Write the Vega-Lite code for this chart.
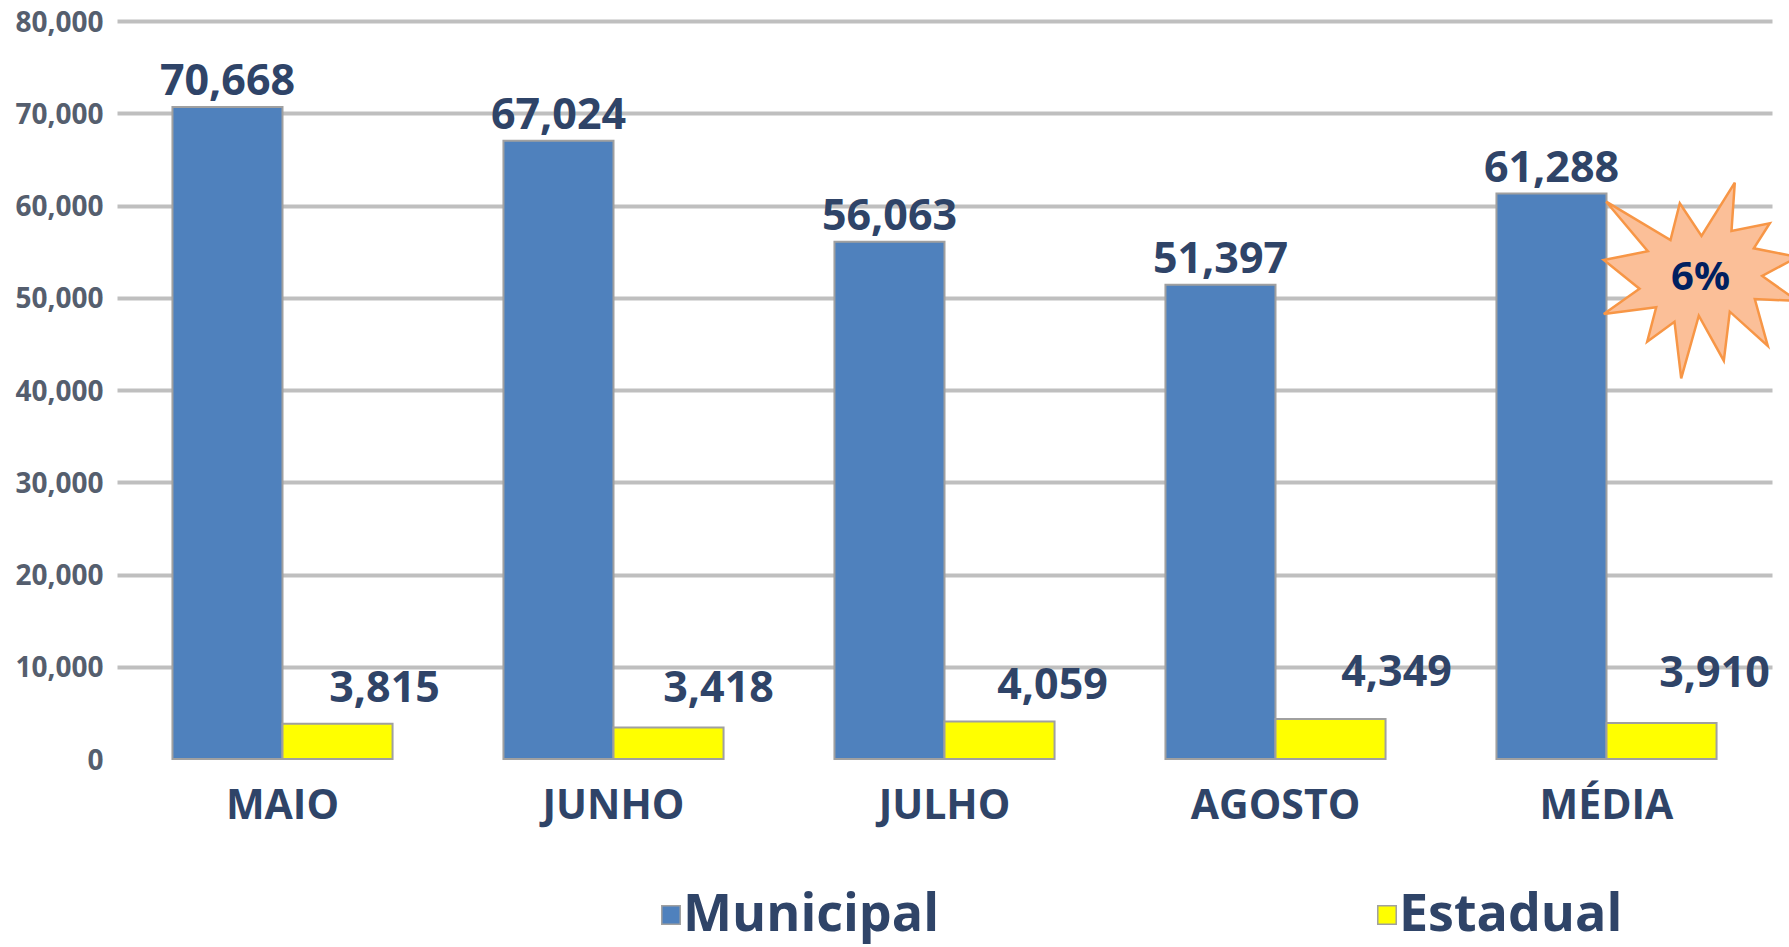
{"$schema":"https://vega.github.io/schema/vega-lite/v6.json","width":1655,"height":738,"autosize":"none","padding":{"left":117,"top":21,"right":17,"bottom":188},"background":"white","config":{"view":{"stroke":null}},"datasets":{"bars":[{"mes":"MAIO","serie":"Municipal","valor":70668},{"mes":"MAIO","serie":"Estadual","valor":3815},{"mes":"JUNHO","serie":"Municipal","valor":67024},{"mes":"JUNHO","serie":"Estadual","valor":3418},{"mes":"JULHO","serie":"Municipal","valor":56063},{"mes":"JULHO","serie":"Estadual","valor":4059},{"mes":"AGOSTO","serie":"Municipal","valor":51397},{"mes":"AGOSTO","serie":"Estadual","valor":4349},{"mes":"MÉDIA","serie":"Municipal","valor":61288},{"mes":"MÉDIA","serie":"Estadual","valor":3910}],"nota":[{"mes":"MÉDIA","valor":52250,"texto":"6%"}]},"data":{"name":"bars"},"encoding":{"x":{"field":"mes","type":"nominal","sort":["MAIO","JUNHO","JULHO","AGOSTO","MÉDIA"],"title":null,"scale":{"paddingInner":0.335,"paddingOuter":0.1675},"axis":{"labelAngle":0,"labelFont":"Open Sans","labelFontWeight":"bold","labelFontSize":41,"labelColor":"#2F4468","labelPadding":27,"domain":false,"ticks":false,"grid":false}},"y":{"field":"valor","type":"quantitative","title":null,"scale":{"domain":[0,80000],"nice":false},"axis":{"values":[0,10000,20000,30000,40000,50000,60000,70000,80000],"format":",d","labelFont":"Open Sans","labelFontWeight":"bold","labelFontSize":28,"labelColor":"#555E6E","labelPadding":14,"labelOffset":2,"domain":false,"ticks":false,"grid":true,"gridColor":"#BFBFBF","gridWidth":4,"gridOpacity":{"condition":{"test":"datum.value === 0","value":0},"value":1}}}},"layer":[{"mark":{"type":"bar","stroke":"#A0A0A0","strokeWidth":2},"encoding":{"xOffset":{"field":"serie","type":"nominal","sort":["Municipal","Estadual"]},"color":{"field":"serie","type":"nominal","sort":["Municipal","Estadual"],"scale":{"domain":["Municipal","Estadual"],"range":["#4F81BD","#FFFF00"]},"legend":{"orient":"none","legendX":528,"legendY":868,"direction":"horizontal","columns":2,"title":null,"symbolType":"square","symbolSize":340,"symbolStrokeWidth":1.5,"labelFont":"Open Sans","labelFontWeight":"bold","labelFontSize":52,"labelColor":"#2F4468","labelOffset":-14,"labelLimit":400,"columnPadding":421}}}},{"transform":[{"filter":"datum.serie==='Municipal'"}],"mark":{"type":"text","font":"Open Sans","fontWeight":"bold","fontSize":43,"color":"#2F4468","baseline":"middle","dy":-25},"encoding":{"xOffset":{"field":"serie","type":"nominal","sort":["Municipal","Estadual"]},"text":{"field":"valor","type":"quantitative","format":",d"}}},{"transform":[{"filter":"datum.serie==='Estadual' && datum.mes==='MAIO'"}],"mark":{"type":"text","font":"Open Sans","fontWeight":"bold","fontSize":43,"color":"#2F4468","baseline":"middle","dx":47,"dy":-35},"encoding":{"xOffset":{"field":"serie","type":"nominal","sort":["Municipal","Estadual"]},"text":{"field":"valor","type":"quantitative","format":",d"}}},{"transform":[{"filter":"datum.serie==='Estadual' && datum.mes==='JUNHO'"}],"mark":{"type":"text","font":"Open Sans","fontWeight":"bold","fontSize":43,"color":"#2F4468","baseline":"middle","dx":50,"dy":-38},"encoding":{"xOffset":{"field":"serie","type":"nominal","sort":["Municipal","Estadual"]},"text":{"field":"valor","type":"quantitative","format":",d"}}},{"transform":[{"filter":"datum.serie==='Estadual' && datum.mes==='JULHO'"}],"mark":{"type":"text","font":"Open Sans","fontWeight":"bold","fontSize":43,"color":"#2F4468","baseline":"middle","dx":53,"dy":-36},"encoding":{"xOffset":{"field":"serie","type":"nominal","sort":["Municipal","Estadual"]},"text":{"field":"valor","type":"quantitative","format":",d"}}},{"transform":[{"filter":"datum.serie==='Estadual' && datum.mes==='AGOSTO'"}],"mark":{"type":"text","font":"Open Sans","fontWeight":"bold","fontSize":43,"color":"#2F4468","baseline":"middle","dx":66,"dy":-46},"encoding":{"xOffset":{"field":"serie","type":"nominal","sort":["Municipal","Estadual"]},"text":{"field":"valor","type":"quantitative","format":",d"}}},{"transform":[{"filter":"datum.serie==='Estadual' && datum.mes==='MÉDIA'"}],"mark":{"type":"text","font":"Open Sans","fontWeight":"bold","fontSize":43,"color":"#2F4468","baseline":"middle","dx":53,"dy":-49},"encoding":{"xOffset":{"field":"serie","type":"nominal","sort":["Municipal","Estadual"]},"text":{"field":"valor","type":"quantitative","format":",d"}}},{"data":{"name":"nota"},"mark":{"type":"point","filled":true,"xOffset":91,"size":40000,"opacity":1,"fill":"#FBBF98","stroke":"#F79646","strokeWidth":2.5,"shape":"M-0.913,-0.753L-0.27,-0.37L-0.177,-0.737L0.04,-0.41L0.373,-0.943L0.34,-0.46L0.723,-0.537L0.563,-0.287L1,-0.2L0.647,-0.01L1,0.24L0.573,0.22L0.703,0.69L0.323,0.347L0.263,0.837L0.013,0.387L-0.163,1.013L-0.23,0.447L-0.503,0.647L-0.413,0.303L-0.937,0.37L-0.58,0.117L-0.937,-0.17L-0.497,-0.257Z"}},{"data":{"name":"nota"},"mark":{"type":"text","xOffset":94,"yOffset":1,"font":"Open Sans","fontWeight":"bold","fontSize":40,"color":"#002060","baseline":"middle"},"encoding":{"text":{"field":"texto","type":"nominal"}}}]}
